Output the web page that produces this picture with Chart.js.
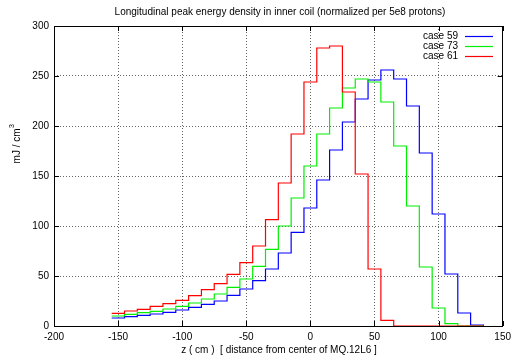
<!DOCTYPE html>
<html>
<head>
<meta charset="utf-8">
<script src="https://cdn.jsdelivr.net/npm/chart.js@4.4.1/dist/chart.umd.min.js"></script>
<style>
  html, body { margin: 0; padding: 0; background: #fff; }
  #wrap { width: 516px; height: 356px; }
</style>
</head>
<body>
<div id="wrap"><canvas id="c" width="516" height="356"></canvas></div>
<script>
// bin centres (cm), bins are 10 cm wide
const binCenters = [-150,-140,-130,-120,-110,-100,-90,-80,-70,-60,-50,-40,-30,-20,-10,
                    0,10,20,30,40,50,60,70,80,90,100,110,120,130]
const case59 = [8,9.3,10.7,12,13.7,16,18.7,21.7,25,30.7,37,45.3,57,73,93.7,
                118,146,176,204,227,246,256,247,220,173,112,52,13,1]
const case73 = [10,11.7,13.3,14.7,17,19.7,23,27,32,38.7,47,59.7,76.7,100,128,
                160,192,218,238,247,244,224,180,120,59,18,2.3,0,0]
const case61 = [12.7,15,16.7,19.7,22.3,25.7,30.3,36.3,42.3,51.7,63.3,80,106.3,143,192,
                244,278,280,234,152,57,5.7,0,0,0,0,0,0,0]
const xTicks = [-200,-150,-100,-50,0,50,100,150]
const yTicks = [0,50,100,150,200,250,300]
const binWidth = 10

const FONT = 'Liberation Sans, Arial, Helvetica, sans-serif'

// histogram steps: value held from left edge to right edge of each bin
function steps(values){
    let pts = values.map((v, i) => ({x: binCenters[i] - binWidth/2, y: v}))
    pts.push({x: binCenters[binCenters.length-1] + binWidth/2, y: 0})
    return pts
}

const series = [
    {label: 'case 59', values: case59, color: '#0000ff'},
    {label: 'case 73', values: case73, color: '#00ee00'},
    {label: 'case 61', values: case61, color: '#ff0000'}
]

const decor = {
    id: 'decor',
    afterDraw(chart){
        const ctx = chart.ctx
        const a = chart.chartArea
        const xs = chart.scales.x, ys = chart.scales.y
        ctx.save()
        // border box
        ctx.strokeStyle = '#000'
        ctx.lineWidth = 1
        ctx.strokeRect(Math.round(a.left)+0.5, Math.round(a.top)+0.5,
                       Math.round(a.right-a.left)-1, Math.round(a.bottom-a.top))
        // inward ticks
        ctx.beginPath()
        xTicks.forEach(t => {
            const px = Math.round(xs.getPixelForValue(t)) + 0.5
            ctx.moveTo(px, a.bottom); ctx.lineTo(px, a.bottom - 5)
            ctx.moveTo(px, a.top); ctx.lineTo(px, a.top + 5)
        })
        yTicks.forEach(t => {
            const py = Math.round(ys.getPixelForValue(t)) + 0.5
            ctx.moveTo(a.left, py); ctx.lineTo(a.left + 5, py)
            ctx.moveTo(a.right, py); ctx.lineTo(a.right - 5, py)
        })
        ctx.stroke()

        ctx.fillStyle = '#000'
        ctx.font = '10px ' + FONT
        // title
        ctx.textAlign = 'center'
        ctx.textBaseline = 'middle'
        ctx.fillText('Longitudinal peak energy density in inner coil (normalized per 5e8 protons)', 280, 12)
        // x axis title
        ctx.fillText('z ( cm )  [ distance from center of MQ.12L6 ]', 279, 350)

        // y axis title with superscript
        ctx.translate(15, 144)
        ctx.rotate(-Math.PI/2)
        const main = 'mJ / cm'
        ctx.font = '10px ' + FONT
        const w1 = ctx.measureText(main).width
        ctx.font = '7px ' + FONT
        const w2 = ctx.measureText('3').width
        const x0 = -(w1 + w2)/2
        ctx.textAlign = 'left'
        ctx.font = '10px ' + FONT
        ctx.fillText(main, x0, 2)
        ctx.font = '7px ' + FONT
        ctx.fillText('3', x0 + w1 + 0.5, -3)
        ctx.setTransform(1,0,0,1,0,0)

        // legend
        ctx.font = '10px ' + FONT
        ctx.textAlign = 'right'
        series.forEach((s, i) => {
            const y = 36 + i*10
            ctx.fillStyle = '#000'
            ctx.fillText(s.label, 458, y)
            ctx.strokeStyle = s.color
            ctx.lineWidth = 1.2
            ctx.beginPath()
            ctx.moveTo(465, y + 0.5); ctx.lineTo(493, y + 0.5)
            ctx.stroke()
        })
        ctx.restore()
    }
}

new Chart(document.getElementById('c'), {
    type: 'line',
    data: {
        datasets: series.map((s, i) => ({
            label: s.label,
            data: steps(s.values),
            borderColor: s.color,
            borderWidth: 1.2,
            pointRadius: 0,
            fill: false,
            stepped: true,
            order: series.length - i
        }))
    },
    options: {
        responsive: false,
        animation: false,
        devicePixelRatio: 1,
        layout: {padding: {left: 0, right: 10, top: 26, bottom: 0}},
        plugins: {legend: {display: false}, title: {display: false}, tooltip: {enabled: false}},
        scales: {
            x: {
                type: 'linear', min: -200, max: 150,
                afterFit: s => { s.height = 30 },
                afterBuildTicks: s => { s.ticks = xTicks.map(v => ({value: v})) },
                grid: {color: 'rgba(0,0,0,0.6)', drawTicks: false, lineWidth: 1},
                border: {display: false, dash: [1, 2]},
                ticks: {color: '#000', font: {family: FONT, size: 10}, padding: 5, maxRotation: 0}
            },
            y: {
                type: 'linear', min: 0, max: 300,
                afterFit: s => { s.width = 54 },
                afterBuildTicks: s => { s.ticks = yTicks.map(v => ({value: v})) },
                grid: {color: 'rgba(0,0,0,0.6)', drawTicks: false, lineWidth: 1},
                border: {display: false, dash: [1, 2]},
                ticks: {color: '#000', font: {family: FONT, size: 10}, padding: 5}
            }
        }
    },
    plugins: [decor]
})
</script>
</body>
</html>
